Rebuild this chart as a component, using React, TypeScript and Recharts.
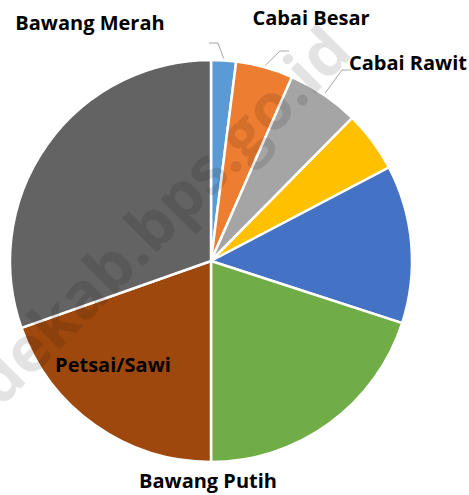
import { PieChart, Pie, Cell } from 'recharts';

const NAMES = ['Bawang Merah', 'Cabai Besar', 'Cabai Rawit', 'Lainnya A', 'Lainnya B', 'Bawang Putih', 'Petsai/Sawi', 'Lainnya C'];
const SHARES = [2.0, 4.6, 5.8, 4.9, 12.7, 20.0, 19.6, 30.4];
const SHOWN = [true, true, true, false, false, true, true, false];

const COLORS = ['#5B9BD5', '#ED7D31', '#A5A5A5', '#FFC000', '#4472C4', '#70AD47', '#9E480E', '#636363'];

const data = NAMES.map((name, i) => ({ name, value: SHARES[i] }));

// where Excel put each label (text centre / baseline), and leader elbows
const LABEL_LAYOUT: Record<number, { x: number; y: number; leader?: [number, number, number] }> = {
  0: { x: 90, y: 30, leader: [218, 43, 209] },
  1: { x: 311, y: 25, leader: [280, 51, 289] },
  2: { x: 408, y: 70, leader: [342, 70, 351] },
  5: { x: 208, y: 488 },
  6: { x: 113, y: 372 },
};

const RAD = Math.PI / 180;

const renderLabel = (props: any) => {
  const { index, cx, cy, outerRadius, midAngle } = props;
  if (!SHOWN[index]) return null;
  const lay = LABEL_LAYOUT[index];
  if (!lay) return null;
  const r = outerRadius + 2;
  const px = cx + r * Math.cos(-midAngle * RAD);
  const py = cy + r * Math.sin(-midAngle * RAD);
  return (
    <g key={`lbl-${index}`}>
      {lay.leader && (
        <polyline
          points={`${px},${py} ${lay.leader[0]},${lay.leader[1]} ${lay.leader[2]},${lay.leader[1]}`}
          fill="none"
          stroke="#a6a6a6"
          strokeWidth={1}
        />
      )}
      <text
        x={lay.x}
        y={lay.y}
        textAnchor="middle"
        fill="#000"
        fontFamily="'Open Sans', sans-serif"
        fontWeight={700}
        fontSize={20}
      >
        {NAMES[index]}
      </text>
    </g>
  );
};

export default function App() {
  return (
    <div style={{ position: 'relative', width: 469, height: 495, background: '#fff', overflow: 'hidden' }}>
      <style>{'body{margin:0}'}</style>
      <PieChart width={469} height={495} margin={{ top: 0, right: 0, bottom: 0, left: 0 }}>
        <Pie
          data={data}
          dataKey="value"
          nameKey="name"
          cx={211}
          cy={261}
          outerRadius={201}
          startAngle={90}
          endAngle={-270}
          stroke="#fff"
          strokeWidth={2.5}
          label={renderLabel}
          labelLine={false}
          isAnimationActive={false}
        >
          {data.map((d, i) => (
            <Cell key={d.name} fill={COLORS[i]} />
          ))}
        </Pie>
      </PieChart>
      {/* watermark */}
      <svg
        width={469}
        height={495}
        style={{ position: 'absolute', left: 0, top: 0, pointerEvents: 'none' }}
      >
        <g
          transform="translate(140 269) rotate(-45)"
          fill="#000"
          fillOpacity={0.11}
          fontFamily="'Open Sans', sans-serif"
          fontWeight={700}
          fontSize={64}
        >
          <text x={0} y={0} textAnchor="end">dekab</text>
          <text x={0} y={0} textAnchor="start">.bps.go.id</text>
        </g>
      </svg>
    </div>
  );
}
